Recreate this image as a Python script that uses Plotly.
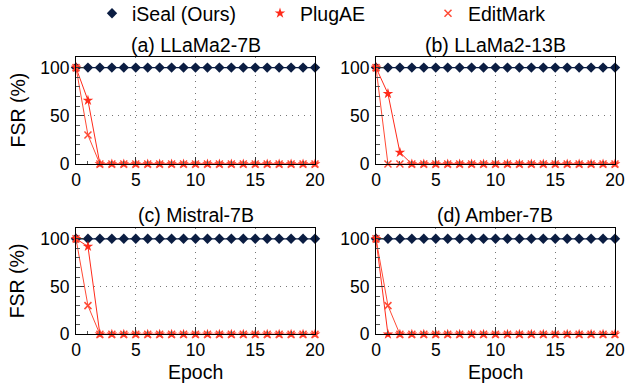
import plotly.graph_objects as go

epochs = list(range(21))
panel_titles = ["(a) LLaMa2-7B", "(b) LLaMa2-13B", "(c) Mistral-7B", "(d) Amber-7B"]
iseal = [[100] * 21 for _ in range(4)]
plugae = [
    [100, 66] + [0] * 19,
    [100, 73, 12] + [0] * 18,
    [100, 92] + [0] * 19,
    [100] + [0] * 20,
]
editmark = [
    [100, 30] + [0] * 19,
    [100] + [0] * 20,
    [100, 30] + [0] * 19,
    [100, 30] + [0] * 19,
]
series_names = ["iSeal (Ours)", "PlugAE", "EditMark"]
y_title = "FSR (%)"
x_title = "Epoch"

NAVY = "#0b1d42"
RED1 = "#ff2a1a"
RED2 = "#ff4a35"
FONT = "Liberation Sans, Arial, sans-serif"
TXT = 19.5
TICK = 17.5

W, H = 625, 388
xdom = [[76 / W, 315 / W], [376 / W, 615 / W]]
ydom = [[1 - 164 / H, 1 - 57 / H], [1 - 334.3 / H, 1 - 228.3 / H]]

fig = go.Figure()
layout = {}
annotations = []
for i in range(4):
    r, c = divmod(i, 2)
    n = i + 1
    xa = "x" if n == 1 else f"x{n}"
    ya = "y" if n == 1 else f"y{n}"
    fig.add_trace(go.Scatter(x=epochs, y=iseal[i], xaxis=xa, yaxis=ya, mode="lines+markers",
                             line=dict(color=NAVY, width=1.3),
                             marker=dict(symbol="diamond", size=8, color=NAVY),
                             cliponaxis=False, showlegend=False, name=series_names[0]))
    fig.add_trace(go.Scatter(x=epochs, y=plugae[i], xaxis=xa, yaxis=ya, mode="lines+markers",
                             line=dict(color=RED1, width=1),
                             marker=dict(symbol="star", size=8, color=RED1),
                             cliponaxis=False, showlegend=False, name=series_names[1]))
    fig.add_trace(go.Scatter(x=epochs, y=editmark[i], xaxis=xa, yaxis=ya, mode="lines+markers",
                             line=dict(color=RED2, width=1),
                             marker=dict(symbol="x-thin", size=7, color=RED2,
                                         line=dict(color=RED2, width=1.5)),
                             cliponaxis=False, showlegend=False, name=series_names[2]))
    axcommon = dict(showline=True, mirror=True, linecolor="black", linewidth=1,
                    ticks="inside", tickcolor="#333", showgrid=True, gridcolor="#777",
                    griddash="1px,5px", gridwidth=1, zeroline=False, automargin=False,
                    tickfont=dict(family=FONT, size=TICK, color="black"))
    xkey = "xaxis" if n == 1 else f"xaxis{n}"
    ykey = "yaxis" if n == 1 else f"yaxis{n}"
    xd = dict(axcommon, domain=xdom[c], range=[0, 20], tickvals=[0, 5, 10, 15, 20],
              ticklen=7, anchor=ya,
              minor=dict(dtick=1, ticklen=3, ticks="inside", tickcolor="#555", showgrid=False))
    yd = dict(axcommon, domain=ydom[r], range=[0, 111], tickvals=[0, 50, 100],
              ticklen=8, anchor=xa, ticklabelstandoff=2,
              minor=dict(dtick=10, ticklen=4, ticks="inside", tickcolor="#555", showgrid=False))
    layout[xkey] = xd
    layout[ykey] = yd
    annotations.append(dict(text=panel_titles[i], x=(xdom[c][0] + xdom[c][1]) / 2,
                            y=1 - 45 / H if r == 0 else 1 - 215 / H,
                            xref="paper", yref="paper",
                            xanchor="center", yanchor="middle", showarrow=False,
                            font=dict(family=FONT, size=TXT, color="black")))
    if c == 0:
        annotations.append(dict(text=y_title, x=17 / W, y=(ydom[r][0] + ydom[r][1]) / 2,
                                xref="paper", yref="paper", textangle=-90,
                                xanchor="center", yanchor="middle", showarrow=False,
                                font=dict(family=FONT, size=TXT, color="black")))
    if r == 1:
        annotations.append(dict(text=x_title, x=(xdom[c][0] + xdom[c][1]) / 2,
                                y=1 - 372 / H, xref="paper", yref="paper",
                                xanchor="center", yanchor="middle", showarrow=False,
                                font=dict(family=FONT, size=TXT, color="black")))

# legend-only entries (markers only)
fig.add_trace(go.Scatter(x=[None], y=[None], mode="markers", name=series_names[0],
                         marker=dict(symbol="diamond", size=8, color=NAVY)))
fig.add_trace(go.Scatter(x=[None], y=[None], mode="markers", name=series_names[1],
                         marker=dict(symbol="star", size=8, color=RED1)))
fig.add_trace(go.Scatter(x=[None], y=[None], mode="markers", name=series_names[2],
                         marker=dict(symbol="x-thin", size=7, color=RED2,
                                     line=dict(color=RED2, width=1.5))))

fig.update_layout(
    width=W, height=H, margin=dict(l=0, r=0, t=0, b=0, autoexpand=False),
    paper_bgcolor="white", plot_bgcolor="white",
    font=dict(family=FONT, size=TXT, color="black"),
    showlegend=True,
    legend=dict(orientation="h", x=92 / W, y=1 + 6 / H, xanchor="left", yanchor="top",
                entrywidth=123, entrywidthmode="pixels", bgcolor="rgba(0,0,0,0)",
                font=dict(family=FONT, size=TXT, color="black")),
    annotations=annotations,
    **layout,
)
fig.write_html("out.html")
